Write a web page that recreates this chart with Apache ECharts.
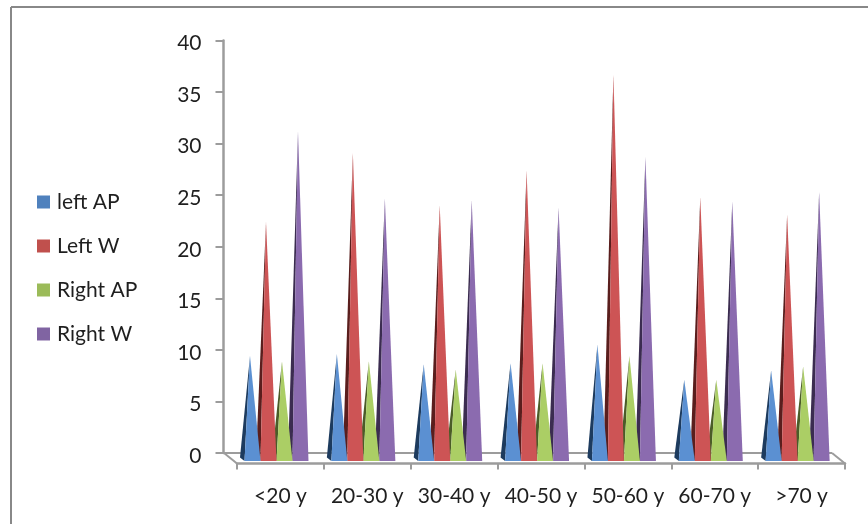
<!DOCTYPE html>
<html>
<head>
<meta charset="utf-8">
<style>html,body{margin:0;padding:0;background:#fff}#c{width:868px;height:524px}</style>
<script src="https://cdn.jsdelivr.net/npm/echarts@6/dist/echarts.min.js"></script>
</head>
<body>
<div id="c"></div>
<script>
const categories = ['<20 y','20-30 y','30-40 y','40-50 y','50-60 y','60-70 y','>70 y'];
const leftAP  = [9.4, 9.6, 8.6, 8.7, 10.5, 7.1, 8.0];
const leftW   = [22.4, 29.1, 24.0, 27.4, 36.7, 24.8, 23.1];
const rightAP = [8.9, 8.9, 8.1, 8.7, 9.4, 7.1, 8.4];
const rightW  = [31.2, 24.7, 24.5, 23.8, 28.7, 24.4, 25.3];
const seriesNames = ['left AP','Left W','Right AP','Right W'];
const seriesValues = [leftAP, leftW, rightAP, rightW];
const legendColors = ['#4F81BD','#C0504D','#9BBB59','#8064A2'];
const frontColors = ['#5B90D2','#CD5455','#ABCE65','#8B6BAF'];
const sideColors = ['#1D3B5E','#5A1E1D','#4B5C28','#3B2C50'];

const FONT = 'Lato, "Open Sans", sans-serif';
const TEXT = '#1f1f1f';
const AXIS = '#9c9c9c';

function makeRender(si){
  return function(params, api){
    const i = api.value(0), v = api.value(1);
    const band = api.size([1,0])[0];
    const bandStart = api.coord([i,0])[0] - band/2;
    const y0 = api.coord([i,0])[1];
    const top = api.coord([i,v])[1];
    const w = 16;
    const xl = bandStart + 21 + si*w;
    const xr = xl + w;
    const ax = xl + 5.5;
    const yf = y0 + 8;
    return {type:'group', children:[
      {type:'polygon', shape:{points:[[ax,top],[xl-4.5,y0+4.5],[xl,yf]]}, style:{fill:sideColors[si]}},
      {type:'polygon', shape:{points:[[ax,top],[xl,yf],[xr,yf]]}, style:{fill:frontColors[si]}}
    ]};
  };
}

const chart = echarts.init(document.getElementById('c'));
chart.setOption({
  animation:false,
  backgroundColor:'#fff',
  textStyle:{fontFamily:FONT},
  legend:{
    orient:'vertical', left:32, top:185, itemWidth:13, itemHeight:13, itemGap:20,
    icon:'rect',
    textStyle:{fontFamily:FONT,fontSize:21,color:TEXT,lineHeight:24,padding:[0,0,0,2]},
    data:seriesNames
  },
  grid:[
    {left:223.5,right:36.5,top:40.5,bottom:71},
    {left:237,right:23,top:50,bottom:60.5}
  ],
  xAxis:[
    {gridIndex:0,type:'category',data:categories,show:false},
    {gridIndex:1,type:'category',data:categories,
      axisLine:{lineStyle:{color:AXIS,width:2.5}},
      axisTick:{show:true,alignWithLabel:false,length:6,lineStyle:{color:AXIS,width:2}},
      axisLabel:{fontFamily:FONT,fontSize:21,color:TEXT,margin:22,interval:0}}
  ],
  yAxis:[
    {gridIndex:0,type:'value',min:0,max:40,interval:5,
      axisLine:{show:true,lineStyle:{color:AXIS,width:2.5}},
      axisTick:{show:true,length:8,lineStyle:{color:AXIS,width:2}},
      splitLine:{show:false},
      axisLabel:{fontFamily:FONT,fontSize:21,color:TEXT,margin:22,verticalAlign:'top',lineHeight:6}},
    {gridIndex:1,type:'value',show:false,min:0,max:40}
  ],
  graphic:[
    {type:'line',shape:{x1:11,y1:7,x2:868,y2:7},style:{stroke:'#888',lineWidth:2},silent:true},
    {type:'line',shape:{x1:11,y1:7,x2:11,y2:524},style:{stroke:'#888',lineWidth:2},silent:true},
    {type:'line',shape:{x1:224,y1:453,x2:832,y2:453},style:{stroke:AXIS,lineWidth:2},silent:true},
    {type:'line',shape:{x1:224,y1:453,x2:237,y2:463.5},style:{stroke:AXIS,lineWidth:2},silent:true},
    {type:'line',shape:{x1:832,y1:453,x2:845,y2:463.5},style:{stroke:AXIS,lineWidth:2},silent:true}
  ],
  series:seriesNames.map((n,si)=>({
    name:n,type:'custom',xAxisIndex:0,yAxisIndex:0,z:10-si,
    itemStyle:{color:legendColors[si]},
    encode:{x:0,y:1},
    renderItem:makeRender(si),
    data:seriesValues[si].map((v,i)=>[i,v])
  }))
});
</script>
</body>
</html>
